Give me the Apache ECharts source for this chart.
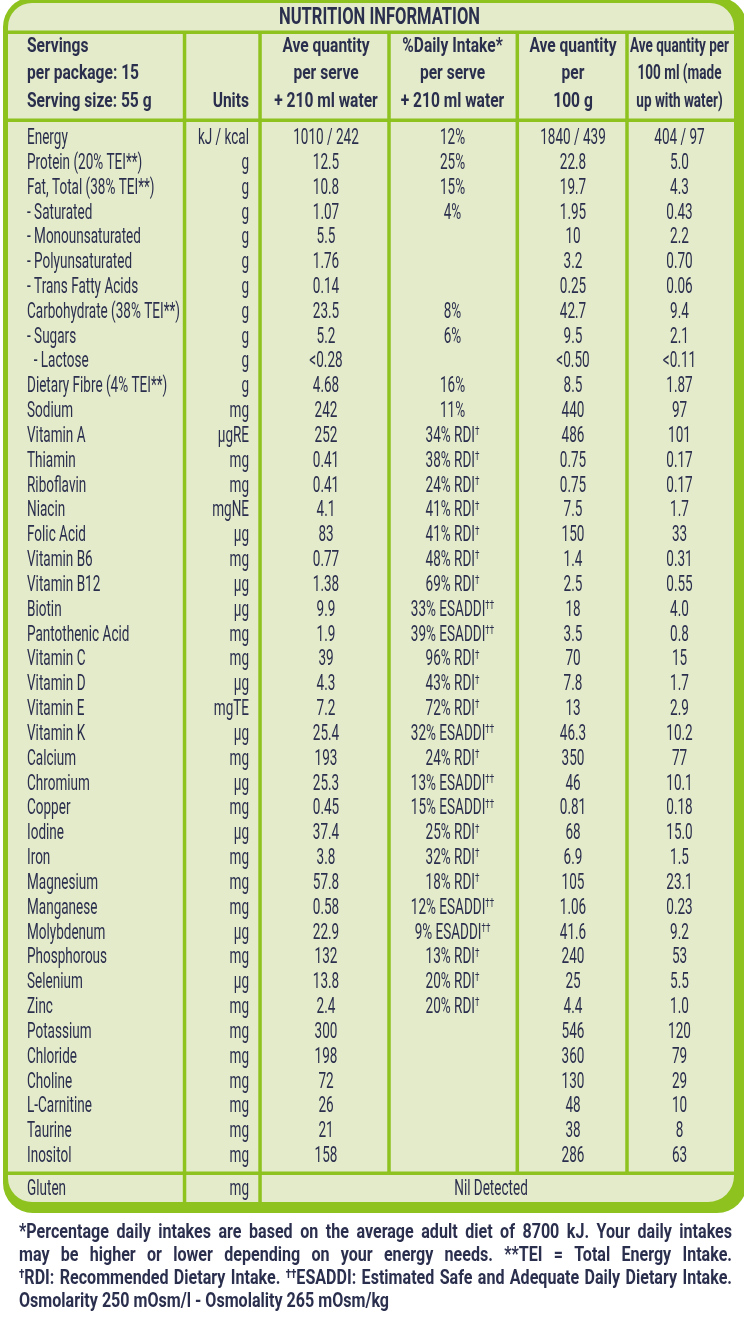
<!DOCTYPE html>
<html><head><meta charset="utf-8">
<script src="https://cdn.jsdelivr.net/npm/echarts@6/dist/echarts.min.js"></script>
<style>html,body{margin:0;padding:0;background:#fff}#c{width:744px;height:1318px}</style>
</head><body><div id="c"></div>
<script>
// ---------- DATA ----------
const title = 'NUTRITION INFORMATION';
const headerNames = ['Servings', 'per package: 15', 'Serving size: 55 g'];
const headerUnits = ['', '', 'Units'];
const headerPerServe = ['Ave quantity', 'per serve', '+ 210 ml water'];
const headerDaily = ['%Daily Intake*', 'per serve', '+ 210 ml water'];
const headerPer100g = ['Ave quantity', 'per', '100 g'];
const headerPer100ml = ['Ave quantity per', '100 ml (made', 'up with water)'];

const nutrients = ['Energy', 'Protein (20% TEI**)', 'Fat, Total (38% TEI**)', '- Saturated', '- Monounsaturated',
  '- Polyunsaturated', '- Trans Fatty Acids', 'Carbohydrate (38% TEI**)', '- Sugars', '\u00a0\u00a0- Lactose',
  'Dietary Fibre (4% TEI**)', 'Sodium', 'Vitamin A', 'Thiamin', 'Riboflavin', 'Niacin', 'Folic Acid', 'Vitamin B6',
  'Vitamin B12', 'Biotin', 'Pantothenic Acid', 'Vitamin C', 'Vitamin D', 'Vitamin E', 'Vitamin K', 'Calcium',
  'Chromium', 'Copper', 'Iodine', 'Iron', 'Magnesium', 'Manganese', 'Molybdenum', 'Phosphorous', 'Selenium', 'Zinc',
  'Potassium', 'Chloride', 'Choline', 'L-Carnitine', 'Taurine', 'Inositol'];
const units = ['kJ / kcal', 'g', 'g', 'g', 'g', 'g', 'g', 'g', 'g', 'g', 'g', 'mg', 'µgRE', 'mg', 'mg', 'mgNE', 'µg', 'mg',
  'µg', 'µg', 'mg', 'mg', 'µg', 'mgTE', 'µg', 'mg', 'µg', 'mg', 'µg', 'mg', 'mg', 'mg', 'µg', 'mg', 'µg', 'mg',
  'mg', 'mg', 'mg', 'mg', 'mg', 'mg'];
const perServe = ['1010 / 242', '12.5', '10.8', '1.07', '5.5', '1.76', '0.14', '23.5', '5.2', '<0.28', '4.68', '242',
  '252', '0.41', '0.41', '4.1', '83', '0.77', '1.38', '9.9', '1.9', '39', '4.3', '7.2', '25.4', '193', '25.3', '0.45',
  '37.4', '3.8', '57.8', '0.58', '22.9', '132', '13.8', '2.4', '300', '198', '72', '26', '21', '158'];
const dailyIntake = ['12%', '25%', '15%', '4%', '', '', '', '8%', '6%', '', '16%', '11%', '34% RDI†', '38% RDI†',
  '24% RDI†', '41% RDI†', '41% RDI†', '48% RDI†', '69% RDI†', '33% ESADDI††', '39% ESADDI††', '96% RDI†', '43% RDI†',
  '72% RDI†', '32% ESADDI††', '24% RDI†', '13% ESADDI††', '15% ESADDI††', '25% RDI†', '32% RDI†', '18% RDI†',
  '12% ESADDI††', '9% ESADDI††', '13% RDI†', '20% RDI†', '20% RDI†', '', '', '', '', '', ''];
const per100g = ['1840 / 439', '22.8', '19.7', '1.95', '10', '3.2', '0.25', '42.7', '9.5', '<0.50', '8.5', '440', '486',
  '0.75', '0.75', '7.5', '150', '1.4', '2.5', '18', '3.5', '70', '7.8', '13', '46.3', '350', '46', '0.81', '68', '6.9',
  '105', '1.06', '41.6', '240', '25', '4.4', '546', '360', '130', '48', '38', '286'];
const per100ml = ['404 / 97', '5.0', '4.3', '0.43', '2.2', '0.70', '0.06', '9.4', '2.1', '<0.11', '1.87', '97', '101',
  '0.17', '0.17', '1.7', '33', '0.31', '0.55', '4.0', '0.8', '15', '1.7', '2.9', '10.2', '77', '10.1', '0.18', '15.0',
  '1.5', '23.1', '0.23', '9.2', '53', '5.5', '1.0', '120', '79', '29', '10', '8', '63'];
const glutenRow = ['Gluten', 'mg', 'Nil Detected'];
const footnotes = [
  '*Percentage daily intakes are based on the average adult diet of 8700 kJ. Your daily intakes',
  'may be higher or lower depending on your energy needs. **TEI = Total Energy Intake.',
  '†RDI: Recommended Dietary Intake. ††ESADDI: Estimated Safe and Adequate Daily Dietary Intake.',
  'Osmolarity 250 mOsm/l - Osmolality 265 mOsm/kg'
];

// ---------- STYLE / LAYOUT ----------
const GREEN = '#8dc21f', BG = '#e4ebca', TXT = '#2b2f4e';
const FONT = 'Roboto';
const cv = document.createElement('canvas').getContext('2d');
function mw(s, size, weight) { cv.font = (weight || 'normal') + ' ' + size + 'px ' + FONT; return cv.measureText(s).width; }
const BODY_SIZE = 22, HEAD_SIZE = 21, TITLE_SIZE = 23, FOOT_SIZE = 21, SUP_SIZE = 13, FOOT_SUP = 13;
// horizontal condensing, fitted to widths measured on the reference
const bodyFits = [['Protein (20% TEI**)', 128], ['Carbohydrate (38% TEI**)', 151], ['Pantothenic Acid', 109], ['- Monounsaturated', 124]];
const SX_BODY = Math.min(
  bodyFits.reduce((a, f) => a + f[1], 0) / bodyFits.reduce((a, f) => a + mw(f[0], BODY_SIZE), 0),
  153 / mw('Carbohydrate (38% TEI**)', BODY_SIZE));
const SX_HEAD = 112 / mw('per package: 15', HEAD_SIZE, 'bold');
const SX_HEAD6 = 99 / mw('Ave quantity per', HEAD_SIZE, 'bold');
const SX_TITLE = 201 / mw(title, TITLE_SIZE, 'bold');
const SX_FOOT = 370 / mw(footnotes[3], FOOT_SIZE, 'bold');

const ROW_TOP = 126.1, ROW_H = 24.83;
const cols = [
  { data: nutrients, left: 27, width: 150, align: 'left' },
  { data: units, left: 189, width: 60, align: 'right' },
  { data: perServe, left: 263, width: 126, align: 'center' },
  { data: dailyIntake, left: 391, width: 123, align: 'center' },
  { data: per100g, left: 520, width: 106, align: 'center' },
  { data: per100ml, left: 629, width: 101, align: 'center' }
];
const headers = [headerNames, headerUnits, headerPerServe, headerDaily, headerPer100g, headerPer100ml];
const HEAD_Y = [46.5, 74, 101.5];

function splitSup(t) {
  const m = t.match(/^(†*)(.*?)(†*)$/);
  return { pre: m[1], main: m[2], post: m[3] };
}
function textStyle(t, size, weight, align, supSize) {
  const p = splitSup(t);
  const base = { fontSize: size, fontFamily: FONT, fontWeight: weight, fill: TXT };
  if (!p.pre && !p.post) return Object.assign({ text: t, align: align, verticalAlign: 'middle' }, base);
  let s = '';
  if (p.pre) s += '{s|' + p.pre + '}';
  s += '{m|' + p.main + '}';
  if (p.post) s += '{s|' + p.post + '}';
  return Object.assign({
    text: s, align: align, verticalAlign: 'middle',
    rich: {
      m: Object.assign({}, base),
      s: { fontSize: supSize, fontFamily: FONT, fontWeight: weight, fill: TXT, verticalAlign: 'top' }
    }
  }, base);
}

function makeRender(texts, align) {
  return function (params, api) {
    const t = texts[params.dataIndex];
    if (!t) return null;
    const pt = api.coord([0, api.value(1)]);
    const cs = params.coordSys;
    const x = align === 'left' ? cs.x : align === 'right' ? cs.x + cs.width : cs.x + cs.width / 2;
    return { type: 'text', x: x, y: pt[1], scaleX: SX_BODY, style: textStyle(t, BODY_SIZE, 'normal', align, SUP_SIZE) };
  };
}

const grids = [], xAxes = [], yAxes = [], series = [];
cols.forEach((c, k) => {
  grids.push({ left: c.left, width: c.width, top: ROW_TOP, height: ROW_H * nutrients.length });
  xAxes.push({ gridIndex: k, type: 'value', min: 0, max: 1, show: false });
  yAxes.push({ gridIndex: k, type: 'category', inverse: true, data: nutrients, show: false });
  series.push({
    type: 'custom', xAxisIndex: k, yAxisIndex: k, silent: true,
    data: c.data.map((v, i) => [0, i]),
    renderItem: makeRender(c.data, c.align)
  });
});

// ---------- GRAPHICS (frame, rules, header, footnotes) ----------
const graphic = [];
let z2 = 0;
function rect(x, y, w, h, fill, r) { graphic.push({ type: 'rect', z: 0, z2: z2++, silent: true, shape: { x, y, width: w, height: h, r: r || 0 }, style: { fill } }); }
function txt(x, y, t, size, weight, align, sx, supSize) {
  graphic.push({ type: 'text', z: 1, z2: z2++, silent: true, x, y, scaleX: sx, style: textStyle(t, size, weight, align, supSize || SUP_SIZE) });
}
rect(3, -3, 744, 1216, GREEN, 30);
rect(8, 3, 726, 1199, BG, [24, 24, 26, 24]);
// horizontal rules
rect(8, 30.5, 726, 3.5, GREEN);
rect(8, 118.5, 726, 3.5, GREEN);
rect(8, 1171.5, 726, 3.5, GREEN);
// vertical rules
rect(182.8, 31, 3.5, 1171, GREEN);
rect(258.3, 31, 3.5, 1171, GREEN);
[389, 517.3, 627].forEach(x => rect(x - 1.75, 31, 3.5, 1142, GREEN));

txt(379.5, 18, title, TITLE_SIZE, 'bold', 'center', SX_TITLE);
headers.forEach((h, k) => {
  const c = cols[k];
  const x = c.align === 'left' ? c.left : c.align === 'right' ? c.left + c.width : c.left + c.width / 2;
  h.forEach((t, j) => { if (t) txt(x, HEAD_Y[j], t, HEAD_SIZE, 'bold', c.align, k === 5 ? SX_HEAD6 : SX_HEAD); });
});
// gluten row
txt(cols[0].left, 1189, glutenRow[0], BODY_SIZE, 'normal', 'left', SX_BODY);
txt(cols[1].left + cols[1].width, 1189, glutenRow[1], BODY_SIZE, 'normal', 'right', SX_BODY);
txt(491, 1189, glutenRow[2], BODY_SIZE, 'normal', 'center', SX_BODY);

// footnotes (justified except last line)
const FOOT_L = 19, FOOT_R = 732, FOOT_Y = [1232.5, 1255.5, 1279, 1301.5];
function wordWidth(w) {
  const p = splitSup(w);
  return (mw(p.pre + p.post, FOOT_SUP, 'bold') * (p.pre || p.post ? 1 : 0) + mw(p.main, FOOT_SIZE, 'bold')) * SX_FOOT;
}
footnotes.forEach((line, li) => {
  const words = line.split(' ');
  const widths = words.map(wordWidth);
  const total = widths.reduce((a, b) => a + b, 0);
  const justify = li < footnotes.length - 1;
  const gap = justify ? (FOOT_R - FOOT_L - total) / (words.length - 1) : mw(' ', FOOT_SIZE, 'bold') * SX_FOOT;
  let x = FOOT_L;
  words.forEach((w, i) => {
    txt(x, FOOT_Y[li], w, FOOT_SIZE, 'bold', 'left', SX_FOOT, FOOT_SUP);
    x += widths[i] + gap;
  });
});

const chart = echarts.init(document.getElementById('c'), null, { renderer: 'canvas' });
chart.setOption({
  animation: false,
  backgroundColor: '#ffffff',
  grid: grids, xAxis: xAxes, yAxis: yAxes, series: series,
  graphic: graphic
});
</script></body></html>
